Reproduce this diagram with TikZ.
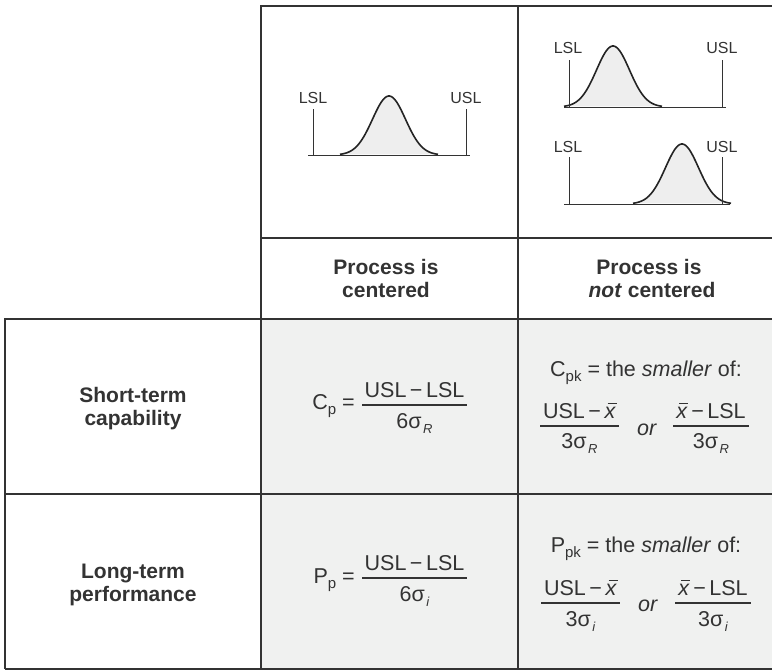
\documentclass[tikz,border=0pt]{standalone}
\usepackage{fontspec}
\setmainfont{Liberation Sans}
\definecolor{ink}{HTML}{333333}
\definecolor{cellgray}{HTML}{F0F1F0}
\definecolor{bellgray}{HTML}{EEEEEE}
\newcommand\lowsub[1]{\raisebox{-5pt}{\fontsize{15}{15}\selectfont #1}}
\newcommand\sig[1]{σ\kern1.5pt\raisebox{-5.5pt}{\fontsize{13}{13}\selectfont\itshape #1}}
\newcommand\xbar{\leavevmode\rlap{\hskip0.14em\raisebox{0.64em}{\rule{0.42em}{0.07em}}}\textit{x}}
\newcommand\mns{\kern3.5pt−\kern3.5pt}
\tikzset{
  thickline/.style={draw=ink, line width=2.6pt, line join=miter},
  thinline/.style={draw=ink, line width=1.2pt},
  hdr/.style={font=\fontsize{21}{23}\selectfont\bfseries, text=ink, inner sep=0, anchor=base},
  frm/.style={font=\fontsize{21.5}{24}\selectfont, text=ink, inner sep=0, anchor=base},
  lim/.style={font=\fontsize{16}{18}\selectfont, text=ink, inner sep=0, anchor=base},
  bell/.style={draw=ink!70!black, line width=1.6pt, fill=bellgray},
  limline/.style={draw=ink, line width=1pt},
  fbar/.style={draw=ink, line width=1.8pt},
}
\begin{document}
\begin{tikzpicture}[x=1pt,y=-1pt]
\useasboundingbox (0,0) rectangle (772,670);
% gray body
\fill[cellgray] (262,319) rectangle (772,669);

% ---- centered bell
\filldraw[bell] plot[domain=-49:49,samples=80,smooth] ({389+\x},{155-59*exp(-\x*\x/544.5)});
\draw[limline] (308,155) -- (470,155);
\draw[limline] (313,109) -- (313,155);
\draw[limline] (466,109) -- (466,155);
\node[lim] (lslA) at (313,103) {LSL};
\node[lim] (uslA) at (466,103) {USL};

% ---- off-centre bell, top
\filldraw[bell] plot[domain=-49:49,samples=80,smooth] ({613+\x},{107-61*exp(-\x*\x/544.5)});
\draw[limline] (564,107) -- (726,107);
\draw[limline] (569,60) -- (569,107);
\draw[limline] (722,60) -- (722,107);
\node[lim] (lslB) at (568,53) {LSL};
\node[lim] (uslB) at (722,53) {USL};

% ---- off-centre bell, bottom
\filldraw[bell] plot[domain=-49:49,samples=80,smooth] ({682+\x},{204-60*exp(-\x*\x/544.5)});
\draw[limline] (564,204) -- (730,204);
\draw[limline] (569,157) -- (569,204);
\draw[limline] (722,157) -- (722,204);
\node[lim] (lslC) at (568,152) {LSL};
\node[lim] (uslC) at (722,152) {USL};

% ---- headers
\node[hdr] (hA1) at (386,274) {Process is};
\node[hdr] (hA2) at (386,297) {centered};
\node[hdr] (hB1) at (649,274) {Process is};
\node[hdr] (hB2) at (652,297) {\textit{not} centered};

% ---- row labels
\node[hdr] (rA1) at (133,402) {Short-term};
\node[hdr] (rA2) at (133,425) {capability};
\node[hdr] (rB1) at (133,578) {Long-term};
\node[hdr] (rB2) at (133,601) {performance};

% ---- Cp
\node[frm, anchor=base east] (cpl) at (355,409) {C\lowsub{p} =};
\node[frm] (cpn) at (414.5,397) {USL\mns LSL};
\node[frm] (cpd) at (414.5,428) {6\sig{R}};
\draw[fbar] (362,405) -- (467,405);

% ---- Pp
\node[frm, anchor=base east] (ppl) at (355,583) {P\lowsub{p} =};
\node[frm] (ppn) at (414.5,570) {USL\mns LSL};
\node[frm] (ppd) at (414.5,601) {6\sig{i}};
\draw[fbar] (362,578) -- (467,578);

% ---- Cpk
\node[frm] (cpkt) at (646,376) {C\lowsub{pk} = the \textit{smaller} of:};
\node[frm] (cpkn1) at (579.5,418) {USL\mns\xbar};
\node[frm] (cpkd1) at (579.5,448) {3\sig{R}};
\draw[fbar] (540,426) -- (619,426);
\node[frm] (cpkor) at (647,435) {\textit{or}};
\node[frm] (cpkn2) at (711,418) {\xbar\mns LSL};
\node[frm] (cpkd2) at (711,448) {3\sig{R}};
\draw[fbar] (673,426) -- (749,426);

% ---- Ppk
\node[frm] (ppkt) at (646,552) {P\lowsub{pk} = the \textit{smaller} of:};
\node[frm] (ppkn1) at (580.5,595) {USL\mns\xbar};
\node[frm] (ppkd1) at (580.5,626) {3\sig{i}};
\draw[fbar] (541,603) -- (620,603);
\node[frm] (ppkor) at (648,611) {\textit{or}};
\node[frm] (ppkn2) at (713,595) {\xbar\mns LSL};
\node[frm] (ppkd2) at (713,626) {3\sig{i}};
\draw[fbar] (675,603) -- (751,603);

% ---- grid
\draw[thinline] (261,319) -- (261,669);
\draw[thinline] (518,6) -- (518,669);
\draw[thinline] (261,238) -- (772,238);
\draw[thinline] (261,319) -- (772,319);
\draw[thinline] (5,494) -- (772,494);
\draw[thinline] (5,669) -- (772,669);
\draw[thickline] (772,6) -- (261,6) -- (261,319) -- (5,319) -- (5,669);
\end{tikzpicture}
\end{document}
